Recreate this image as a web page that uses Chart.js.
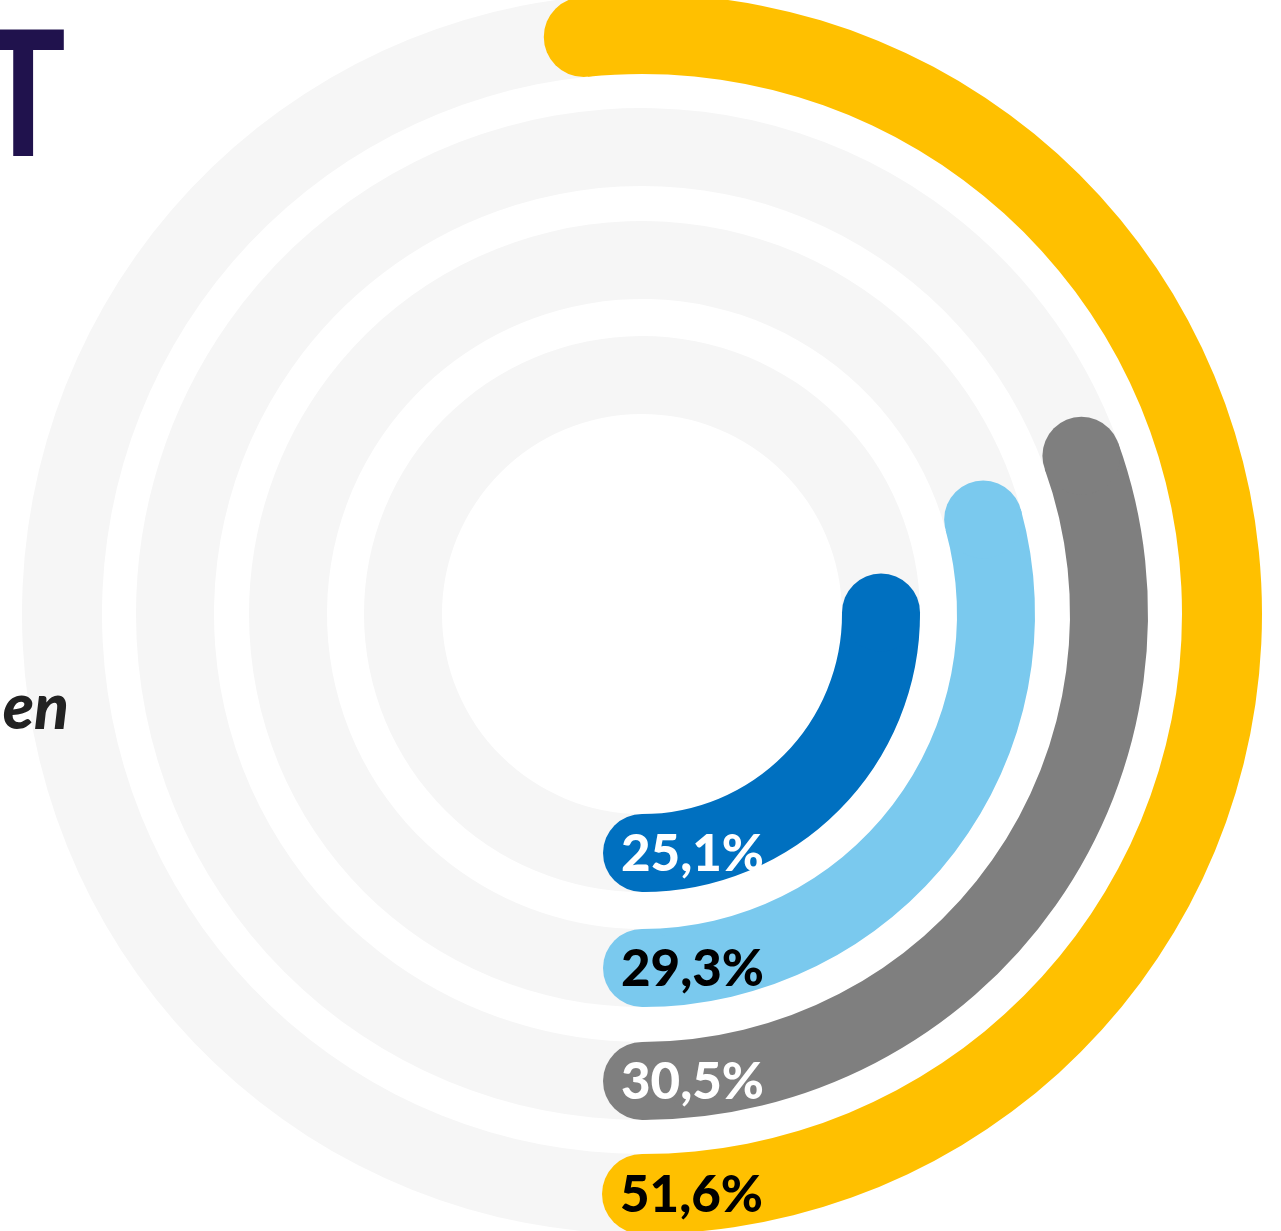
<!DOCTYPE html>
<html>
<head>
<meta charset="utf-8">
<script src="https://cdn.jsdelivr.net/npm/chart.js@4.4.0/dist/chart.umd.min.js"></script>
<style>
    html, body { margin: 0; padding: 0; background: #fff; overflow: hidden; }
    #wrap { position: relative; width: 1281px; height: 1231px; overflow: hidden; }
    #myChart { position: absolute; left: 0; top: 0; z-index: 1; }
    .titulo {
        position: absolute; left: -19px; top: 0px; z-index: 2;
        font-family: "Liberation Sans", Arial, sans-serif; font-weight: bold;
        font-size: 184px; color: #20124d; line-height: 1;
        transform: scaleX(0.75); transform-origin: 0 0;
    }
    .subtitulo {
        position: absolute; right: 1212px; top: 673px; z-index: 2;
        font-family: "Lato", sans-serif; font-weight: 900; font-style: italic;
        font-size: 64px; color: #222; line-height: 1; white-space: nowrap;
    }
</style>
</head>
<body>
<div id="wrap">
    <div class="titulo">T</div>
    <div class="subtitulo">en</div>
    <canvas id="myChart" width="1281" height="1231"></canvas>
</div>
<script>
// valores de los anillos, de afuera hacia adentro
const ringValues = [51.6, 30.5, 29.3, 25.1];
const ringColors = ['#ffc000', '#7f7f7f', '#7ac9ee', '#0070c0'];
const labelColors = ['#000000', '#ffffff', '#000000', '#ffffff'];
const trackColor = '#f6f6f6';
const ringWeights = [80, 78, 78, 78];
const gapWeights = [34, 35, 37];

function formatPct(v) {
    return v.toFixed(1).replace('.', ',') + '%';
}

var datasets = [];
var realIdx = [];
for (var i = 0; i < ringValues.length; i++) {
    if (i > 0) {
        // separador blanco entre anillos
        datasets.push({ data: [], weight: gapWeights[i - 1], backgroundColor: 'rgba(0,0,0,0)' });
    }
    realIdx.push(datasets.length);
    datasets.push({
        data: [100 - ringValues[i], ringValues[i]],
        backgroundColor: [trackColor, ringColors[i]],
        borderWidth: 0,
        weight: ringWeights[i]
    });
}

const capsPlugin = {
    id: 'caps',
    afterDatasetsDraw: function (chart) {
        var ctx = chart.ctx;
        realIdx.forEach(function (dsIndex, i) {
            var el = chart.getDatasetMeta(dsIndex).data[1];
            var p = el.getProps(['x', 'y', 'startAngle', 'endAngle', 'innerRadius', 'outerRadius'], true);
            var mid = (p.innerRadius + p.outerRadius) / 2;
            var r = (p.outerRadius - p.innerRadius) / 2;
            ctx.save();
            ctx.fillStyle = ringColors[i];
            [p.startAngle, p.endAngle].forEach(function (a) {
                ctx.beginPath();
                ctx.arc(p.x + mid * Math.cos(a), p.y + mid * Math.sin(a), r, 0, Math.PI * 2);
                ctx.fill();
            });
            // etiqueta sobre el extremo inferior
            var ex = p.x + mid * Math.cos(p.endAngle);
            var ey = p.y + mid * Math.sin(p.endAngle);
            ctx.fillStyle = labelColors[i];
            ctx.font = '900 51px Lato, sans-serif';
            ctx.textAlign = 'left';
            ctx.textBaseline = 'middle';
            ctx.fillText(formatPct(ringValues[i]), ex - r + 18, ey + 2);
            ctx.restore();
        });
    }
};

var myChart = new Chart(document.getElementById('myChart'), {
    type: 'doughnut',
    data: { labels: ['resto', 'valor'], datasets: datasets },
    options: {
        responsive: false,
        animation: false,
        rotation: 180,
        radius: 620,
        cutout: '32.26%',
        layout: { padding: { left: 3, top: 0, right: 0, bottom: 3 } },
        events: [],
        plugins: {
            legend: { display: false },
            tooltip: { enabled: false }
        }
    },
    plugins: [capsPlugin]
});
</script>
</body>
</html>
